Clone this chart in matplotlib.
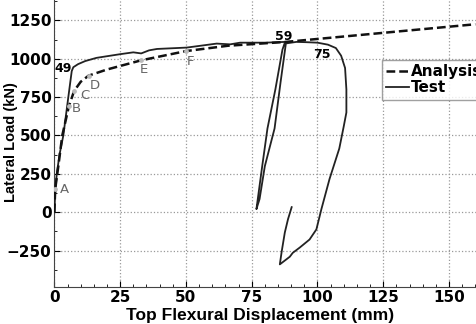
import numpy as np
import matplotlib
matplotlib.use('Agg')
import matplotlib.pyplot as plt
from matplotlib.ticker import MultipleLocator

plt.rcParams['font.family'] = ['DejaVu Sans']
plt.rcParams['font.weight'] = 'bold'

# Analysis (dashed) curve
ana_x = [0, 0.3, 1.5, 3, 5.5, 7.5, 10, 13, 20, 33, 50, 66, 88, 160]
ana_y = [0, 150, 300, 500, 690, 790, 850, 890, 930, 990, 1050, 1085, 1110, 1225]

# Test (solid) curve
test_x = [0, 0.3, 0.9, 2.0, 3.4, 5.3, 6.6, 7.2, 9, 11.7, 16, 25, 30, 33, 36, 39, 50.3, 61.7, 66.8, 70.6,
          80, 87.7, 86.7, 84, 81, 79, 76.8, 78, 80, 83.7, 86, 88,
          92, 96, 100, 104, 107, 109, 110.5, 111, 111, 110, 108.3, 104.6, 101.5, 99.6, 97,
          93.3, 90.6, 89.5, 85.7, 86.4, 87.6, 88.8, 90.2]
test_y = [0, 120, 250, 380, 500, 750, 920, 945, 965, 985, 1006, 1030, 1042, 1035, 1055, 1064, 1073, 1099, 1094, 1105,
          1105, 1110, 1060, 800, 546, 300, 20, 86, 300, 546, 850, 1100,
          1110, 1108, 1105, 1092, 1070, 1020, 940, 800, 650, 560, 415, 217, 20, -112, -178,
          -230, -265, -290, -340, -257, -132, -46, 33]

# Point labels
pt_names = ['A', 'B', 'C', 'D', 'E', 'F']
pt_x = [4, 8.5, 11.6, 15.5, 34, 51.6]
pt_y = [147, 673, 760, 827, 930, 985]
dot_x = [0.3, 5.5, 7.5, 13, 33, 50]
dot_y = [150, 690, 790, 890, 990, 1050]

step_names = ['49', '59', '75']
step_x = [3.4, 87.2, 101.6]
step_y = [936, 1145, 1030]

fig = plt.figure(figsize=(4.77, 3.24), dpi=100)
ax = fig.add_axes([0.114, 0.113, 0.91, 0.895])

ax.plot(test_x, test_y, color='#222222', lw=1.3, label='Test', zorder=3)
ax.plot(ana_x, ana_y, color='#111111', lw=1.8, dashes=(3.5, 1.6), label='Analysis', zorder=4)
ax.scatter(dot_x, dot_y, s=6, color='#bbbbbb', zorder=5)

for n, x, y in zip(pt_names, pt_x, pt_y):
    ax.text(x, y, n, color='#666666', fontsize=9.5, fontweight='normal',
            ha='center', va='center')
for n, x, y in zip(step_names, step_x, step_y):
    ax.text(x, y, n, color='black', fontsize=9, fontweight='bold',
            ha='center', va='center')

ax.set_xlim(0, 165)
ax.set_ylim(-490, 1400)
ax.set_xticks([0, 25, 50, 75, 100, 125, 150])
ax.set_yticks([-250, 0, 250, 500, 750, 1000, 1250])
ax.xaxis.set_minor_locator(MultipleLocator(5))
ax.yaxis.set_minor_locator(MultipleLocator(125))
ax.tick_params(which='both', direction='in', labelsize=11, top=False, right=False)
ax.tick_params(which='major', length=4, pad=2)
ax.tick_params(which='minor', length=2)
ax.grid(True, which='major', color='#999999', linestyle=':', lw=0.9)
for s in ax.spines.values():
    s.set_color('#444444')

ax.set_xlabel('Top Flexural Displacement (mm)', fontsize=12.5, fontweight='bold',
              family='Liberation Sans')
ax.xaxis.set_label_coords(0.475, -0.072)
ax.set_ylabel('Lateral Load (kN)', fontsize=10.5, fontweight='bold',
              family='Liberation Sans', va='center')
ax.yaxis.set_label_coords(-0.099, 0.5)

leg = ax.legend(handles=ax.get_lines()[::-1], loc='upper left', bbox_to_anchor=(0.754, 0.785),
                fontsize=11, frameon=True, fancybox=False, handlelength=1.5,
                handletextpad=0.1, borderpad=0.3, labelspacing=0.05, borderaxespad=0)
leg.get_frame().set_edgecolor('#888888')
leg.get_frame().set_linewidth(1.0)

fig.savefig('out.png', dpi=100)
